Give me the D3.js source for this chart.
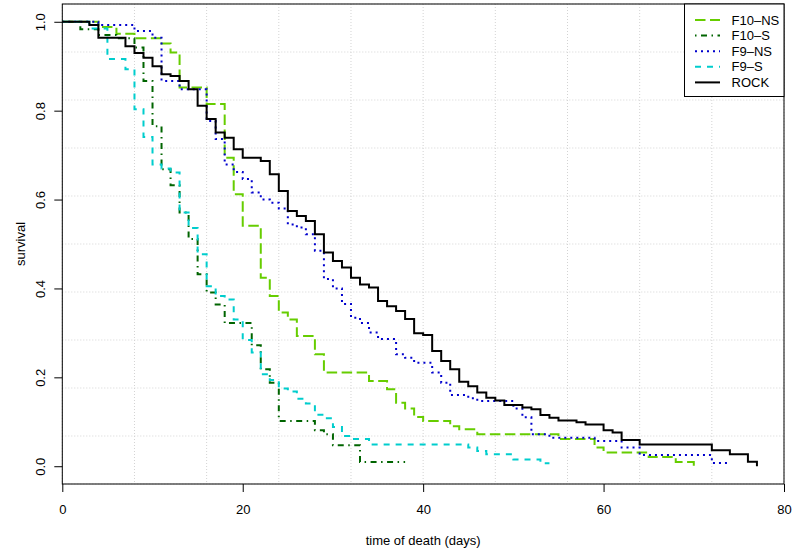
<!DOCTYPE html>
<html><head><meta charset="utf-8">
<script src="https://cdn.jsdelivr.net/npm/d3@7"></script>
<style>
body{margin:0;background:#fff}
svg{display:block}
text{font-family:"Liberation Sans",Arial,Helvetica,sans-serif;fill:#000}
</style>
</head><body>
<svg id="chart" width="795" height="551"></svg>
<script>
// ---------------- data ----------------
const seriesNames = ["F10–NS", "F10–S", "F9–NS", "F9–S", "ROCK"];

const f10nsTime = [0,4,6,8,11,12,13,16,18,19,20,22,23,24,25,26,28,29,34,36,37,38,39,40,43,44,46,55,59,60,65,68,70];
const f10nsSurv = [1.0,0.988,0.973,0.963,0.951,0.931,0.852,0.815,0.694,0.612,0.541,0.424,0.383,0.346,0.330,0.293,0.252,0.211,0.192,0.173,0.143,0.130,0.111,0.102,0.090,0.083,0.072,0.061,0.042,0.031,0.021,0.0095,0.0];

const f10sTime = [0,2,4,6,8,9,10,11,12,13,14,15,16,17,18,21,22,23,24,28,29,30,33,38];
const f10sSurv = [1.0,0.983,0.970,0.963,0.942,0.867,0.765,0.668,0.632,0.571,0.511,0.432,0.391,0.364,0.322,0.272,0.218,0.188,0.102,0.081,0.072,0.047,0.0095,0.0095];

const f9nsTime = [0,4,8,10,11,13,16,17,18,19,20,21,22,23,24,25,26,27,28,29,30,31,32,33,34,35,37,38,39,41,42,43,45,46,50,51,52,54,59,62,64,72,74];
const f9nsSurv = [1.0,0.993,0.979,0.964,0.867,0.848,0.777,0.736,0.679,0.662,0.646,0.616,0.600,0.593,0.580,0.544,0.537,0.522,0.485,0.421,0.400,0.365,0.334,0.322,0.301,0.286,0.252,0.244,0.233,0.211,0.188,0.160,0.153,0.147,0.130,0.110,0.072,0.064,0.057,0.042,0.025,0.007,0.007];

const f9sTime = [0,3,5,7,8,9,10,11,12,13,14,15,16,17,18,19,20,21,22,23,24,25,26,27,28,29,30,31,32,34,45,46,47,50,53,54];
const f9sSurv = [1.0,0.985,0.916,0.893,0.803,0.741,0.679,0.670,0.661,0.571,0.536,0.477,0.405,0.383,0.375,0.330,0.284,0.256,0.207,0.194,0.175,0.168,0.152,0.141,0.116,0.108,0.088,0.068,0.061,0.049,0.042,0.034,0.027,0.015,0.0065,0.0065];

const rockTime = [0,3,4,7,8,9,10,11,12,13,14,15,16,17,18,19,20,22,23,24,25,26,27,28,29,30,31,32,33,34,35,36,37,38,39,40,41,42,43,44,45,46,47,48,49,51,52,53,54,55,57,58,60,61,62,64,72,74,76,77];
const rockSurv = [1.0,0.993,0.964,0.945,0.930,0.919,0.900,0.882,0.878,0.867,0.848,0.811,0.781,0.751,0.739,0.713,0.694,0.687,0.657,0.619,0.574,0.563,0.552,0.522,0.481,0.462,0.447,0.424,0.409,0.402,0.372,0.360,0.349,0.331,0.299,0.295,0.259,0.237,0.218,0.190,0.180,0.166,0.154,0.148,0.138,0.132,0.128,0.115,0.109,0.103,0.099,0.094,0.081,0.076,0.059,0.049,0.036,0.027,0.010,0.0];

const xTicks = [0, 20, 40, 60, 80];
const yTicks = [0.0, 0.2, 0.4, 0.6, 0.8, 1.0];
const xTitle = "time of death (days)";
const yTitle = "survival";

// ---------------- styles ----------------
const styles = [
  {color: "#66CD00", dash: "10.5,4.5", width: 2},
  {color: "#006400", dash: "1.5,4.5,6,4.5", width: 2},
  {color: "#0000CD", dash: "2,4", width: 2},
  {color: "#00CDCD", dash: "6,6", width: 2},
  {color: "#000000", dash: null, width: 2}
];

const series = [
  [f10nsTime, f10nsSurv],
  [f10sTime, f10sSurv],
  [f9nsTime, f9nsSurv],
  [f9sTime, f9sSurv],
  [rockTime, rockSurv]
].map((p, i) => ({name: seriesNames[i], pts: p[0].map((t, j) => [t, p[1][j]]), style: styles[i]}));

// ---------------- layout ----------------
const L = 62.3, R = 784, T = 4, B = 484;
const svg = d3.select("#chart");
const x = d3.scaleLinear().domain([0, 80]).range([L, R]);
const y = d3.scaleLinear().domain([-0.04, 1.04]).range([B, T]);

// grid (10 cells each way, like R grid(10))
const gx = d3.range(11).map(i => i * 8);
const gy = d3.range(11).map(i => -0.04 + i * 0.108);
const grid = svg.append("g").attr("stroke", "#D3D3D3").attr("stroke-width", 1).attr("stroke-dasharray", "1,2");
grid.selectAll(".gx").data(gx).join("line")
  .attr("x1", d => x(d)).attr("x2", d => x(d)).attr("y1", T).attr("y2", B);
grid.selectAll(".gy").data(gy).join("line")
  .attr("y1", d => y(d)).attr("y2", d => y(d)).attr("x1", L).attr("x2", R);

// curves
const line = d3.line().x(d => x(d[0])).y(d => y(d[1])).curve(d3.curveStepAfter);
svg.append("g").selectAll("path").data(series).join("path")
  .attr("d", d => line(d.pts))
  .attr("fill", "none")
  .attr("stroke", d => d.style.color)
  .attr("stroke-width", d => d.style.width)
  .attr("stroke-dasharray", d => d.style.dash);

// axes
const xAxis = d3.axisBottom(x).tickValues(xTicks).tickSize(8).tickPadding(13).tickFormat(d3.format("d"));
const gxA = svg.append("g").attr("transform", `translate(0,${B})`).call(xAxis);
gxA.select(".domain").remove();
gxA.selectAll("line").attr("stroke", "#000");
gxA.selectAll("text").attr("font-size", 13).attr("font-family", '"Liberation Sans",Arial,sans-serif');

const yAxis = d3.axisLeft(y).tickValues(yTicks).tickSize(8).tickFormat(d3.format(".1f"));
const gyA = svg.append("g").attr("transform", `translate(${L},0)`).call(yAxis);
gyA.select(".domain").remove();
gyA.selectAll("line").attr("stroke", "#000");
gyA.selectAll("text")
  .attr("font-size", 13).attr("font-family", '"Liberation Sans",Arial,sans-serif')
  .attr("text-anchor", "middle").attr("x", null).attr("dy", null)
  .attr("transform", "translate(-17.5,0) rotate(-90)")
  .attr("y", 0).attr("dominant-baseline", "auto");

// box
svg.append("rect").attr("x", L).attr("y", T).attr("width", R - L).attr("height", B - T)
  .attr("fill", "none").attr("stroke", "#000").attr("stroke-width", 1);

// titles
svg.append("text").attr("x", (L + R) / 2).attr("y", 544.5).attr("text-anchor", "middle")
  .attr("font-size", 13).text(xTitle);
svg.append("text").attr("transform", `translate(24.5,${(T + B) / 2}) rotate(-90)`)
  .attr("text-anchor", "middle").attr("font-size", 13).text(yTitle);

// legend
const lg = svg.append("g");
lg.append("rect").attr("x", 684.5).attr("y", T).attr("width", R - 684.5).attr("height", 92.5)
  .attr("fill", "#fff").attr("stroke", "#000").attr("stroke-width", 1);
series.forEach((s, i) => {
  const cy = 20 + i * 15.6;
  lg.append("line").attr("x1", 695).attr("x2", 720).attr("y1", cy).attr("y2", cy)
    .attr("stroke", s.style.color).attr("stroke-width", s.style.width)
    .attr("stroke-dasharray", s.style.dash);
  lg.append("text").attr("x", 731.5).attr("y", cy + 4.6).attr("font-size", 13).text(s.name);
});
</script>
</body></html>
